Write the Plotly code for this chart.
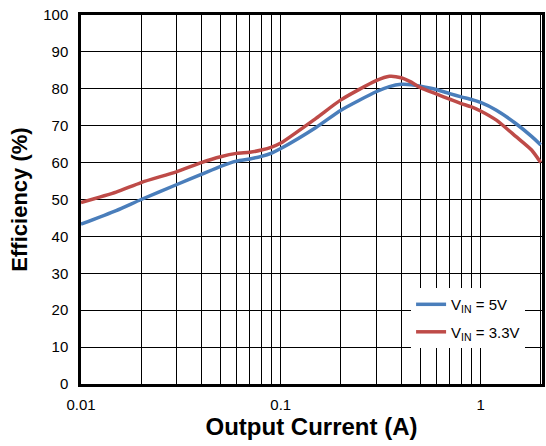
import plotly.graph_objects as go
import math

current = [0.01, 0.015, 0.02, 0.03, 0.04, 0.05, 0.06, 0.07, 0.08, 0.09, 0.1, 0.15, 0.2, 0.3, 0.35,
           0.4, 0.45, 0.5, 0.6, 0.7, 0.8, 0.9, 1.0, 1.2, 1.5, 1.8, 2.0]
eff_5v = [43.3, 47.0, 50.0, 54.0, 56.8, 59.0, 60.4, 61.0, 61.7, 62.6, 63.8, 69.5, 74.2, 79.2, 80.6,
          81.2, 81.1, 80.7, 79.8, 78.7, 77.8, 77.1, 76.3, 74.2, 70.6, 67.1, 64.8]
eff_33v = [49.2, 52.0, 54.6, 57.5, 60.0, 61.6, 62.5, 62.8, 63.4, 64.2, 65.3, 72.0, 77.0, 82.2, 83.4,
           83.0, 81.8, 80.3, 78.6, 77.2, 76.0, 75.1, 74.0, 71.5, 67.1, 63.4, 60.0]

x_tickvals = [m * 10 ** e for e in (-2, -1, 0) for m in range(1, 10)]
x_ticktext = ["0.01" if v == 0.01 else "0.1" if abs(v - 0.1) < 1e-12 else "1" if v == 1 else "" for v in x_tickvals]

fig = go.Figure()
fig.add_trace(go.Scatter(x=current, y=eff_5v, mode="lines", name="V<sub>IN</sub> = 5V",
                         line=dict(color="#4A7EBB", width=3.5, shape="spline", smoothing=0.6),
                         legendgroup="a"))
fig.add_trace(go.Scatter(x=current, y=eff_33v, mode="lines", name="V<sub>IN</sub> = 3.3V",
                         line=dict(color="#BE4B48", width=3.5, shape="spline", smoothing=0.6),
                         legendgroup="b"))

fig.update_layout(
    width=546, height=446,
    margin=dict(l=81, r=1, t=15, b=62),
    paper_bgcolor="white", plot_bgcolor="white",
    font=dict(family="Liberation Sans, Arial, sans-serif", color="black", size=15),
    showlegend=True,
    legend=dict(x=0.716, y=0.26, xanchor="left", yanchor="top", bgcolor="white",
                borderwidth=0, font=dict(size=15), tracegroupgap=5,
                traceorder="grouped", itemwidth=30),
)
fig.update_xaxes(type="log", range=[-2, math.log10(2.03)],
                 tickvals=x_tickvals, ticktext=x_ticktext,
                 showgrid=True, gridcolor="black", gridwidth=1,
                 showline=True, linecolor="black", linewidth=2.5, mirror=True,
                 ticks="", tickfont=dict(size=15), ticklabelstandoff=5,
                 title=dict(text="<b>Output Current (A)</b>", font=dict(size=24), standoff=4),
                 zeroline=False)
fig.update_yaxes(range=[0, 100], dtick=10,
                 showgrid=True, gridcolor="black", gridwidth=1,
                 showline=True, linecolor="black", linewidth=2.5, mirror=True,
                 ticks="", tickfont=dict(size=15), ticklabelstandoff=7,
                 title=dict(text="<b>Efficiency (%)</b>", font=dict(size=22), standoff=10),
                 zeroline=False)

fig.write_html("out.html")
